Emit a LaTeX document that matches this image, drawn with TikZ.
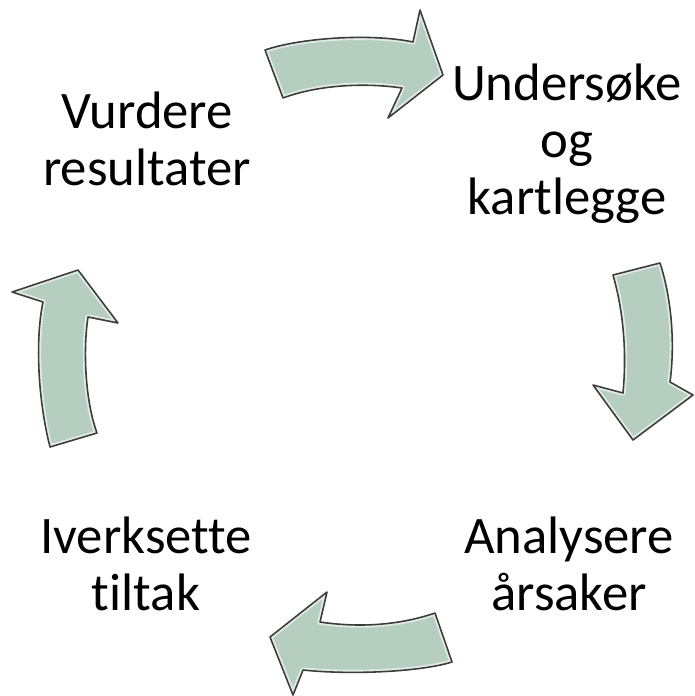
\documentclass[tikz,border=0pt]{standalone}
\usepackage{fontspec}
\setmainfont{Carlito}[Ligatures=NoCommon]
\usepackage{xcolor}
\usetikzlibrary{positioning}
\definecolor{arrowfill}{RGB}{181,206,192}
\definecolor{arrowline}{RGB}{60,60,60}
\tikzset{
cyclearrow/.style={
  fill=arrowfill,
  line join=round,
  postaction={draw=white,line width=3pt,opacity=0.6},
  postaction={draw=arrowline,line width=0.9pt}
  },
steplabel/.style={
  align=center,
  inner sep=0pt,
  font=\fontsize{30}{32.3}\selectfont
  }
}

\begin{document}
\begin{tikzpicture}[x=0.02cm,y=-0.02cm]
\useasboundingbox (0,0) rectangle (694,696);
% the labels (base = last line)
\node[steplabel,anchor=base] (study) at (567,214) {Undersøke\\og\\kartlegge};
\node[steplabel,anchor=base] (analyse) at (569,610) {Analysere\\årsaker};
\node[steplabel,anchor=base] (act) at (146,610) {Iverksette\\tiltak};
\node[steplabel,anchor=base] (review) at (147,185) {Vurdere\\resultater};

%the arrows
\path[cyclearrow]
  (265,50) .. controls (300,38) and (370,33) .. (413,42)
  -- (420,10) -- (443,75) -- (388,118) -- (402,88)
  .. controls (360,82) and (315,86) .. (283,98) -- cycle;
\path[cyclearrow]
  (660,263) .. controls (672,300) and (675,345) .. (670,382)
  -- (693,395) -- (633,440) -- (593,385) -- (623,393)
  .. controls (627,350) and (623,310) .. (613,275) -- cycle;
\path[cyclearrow]
  (452,662) .. controls (420,672) and (350,675) .. (303,670)
  -- (293,695) -- (270,637) -- (327,592) -- (320,622)
  .. controls (360,628) and (400,625) .. (435,613) -- cycle;
\path[cyclearrow]
  (50,447) .. controls (38,400) and (35,340) .. (43,302)
  -- (12,292) -- (78,270) -- (118,323) -- (88,317)
  .. controls (83,350) and (85,400) .. (97,433) -- cycle;
\end{tikzpicture}
\end{document}
